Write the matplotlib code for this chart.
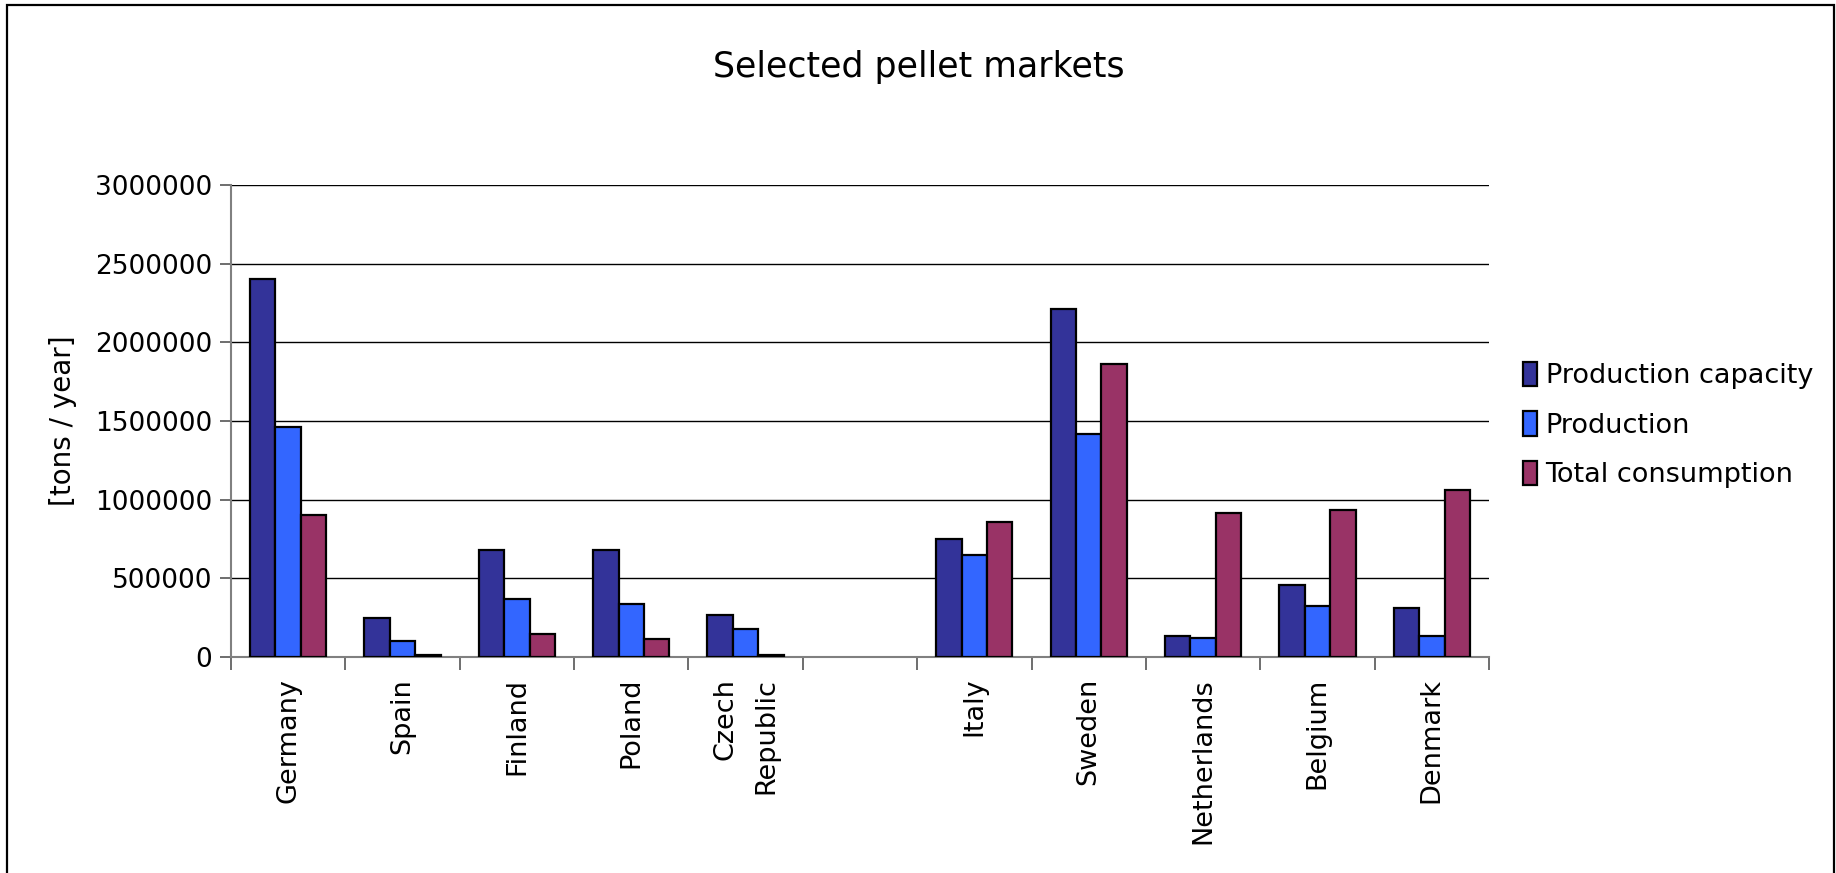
import numpy as np
import matplotlib
matplotlib.use("Agg")
import matplotlib.pyplot as plt
from matplotlib.patches import Rectangle

categories = ["Germany", "Spain", "Finland", "Poland", "Czech\nRepublic", "",
              "Italy", "Sweden", "Netherlands", "Belgium", "Denmark"]
production_capacity = [2400000, 250000, 678000, 680000, 265000, None,
                       752000, 2210000, 134000, 460000, 311000]
production = [1460000, 104000, 368000, 338000, 177000, None,
              649000, 1418000, 121000, 326000, 134000]
total_consumption = [900000, 15000, 149000, 116000, 12000, None,
                     857000, 1860000, 915000, 932000, 1064000]
series_names = ["Production capacity", "Production", "Total consumption"]
series_colors = ["#333399", "#3366FF", "#993366"]
yticks = [0, 500000, 1000000, 1500000, 2000000, 2500000, 3000000]

plt.rcParams['font.family'] = ['DejaVu Sans']

fig = plt.figure(figsize=(18.36, 8.73), dpi=100)
ax = fig.add_axes([0.1258, 0.2474, 0.6852, 0.5407])

x = np.arange(len(categories))
w = 1 / 4.5
all_series = [production_capacity, production, total_consumption]
handles = []
for i, (vals, name, col) in enumerate(zip(all_series, series_names, series_colors)):
    v = np.array([np.nan if a is None else a for a in vals], dtype=float)
    m = ~np.isnan(v)
    b = ax.bar(x[m] + (i - 1) * w, v[m], width=w, color=col, edgecolor='black',
               linewidth=1.6, label=name, zorder=3)
    handles.append(b)

ax.set_xlim(-0.5, len(categories) - 0.5)
ax.set_ylim(0, 3000000)
ax.set_yticks(yticks)
ax.set_yticklabels([str(t) for t in yticks], fontsize=19)
ax.yaxis.grid(True, color='black', linewidth=1.0, zorder=0)
ax.set_axisbelow(True)

ax.set_xticks(np.arange(-0.5, len(categories), 1.0))
ax.set_xticklabels([])
ax.set_xticks(x, minor=True)
ax.set_xticklabels(categories, minor=True, rotation=90, fontsize=19.5,
                   ha='center', va='top', multialignment='right', linespacing=1.75)
ax.tick_params(axis='x', which='minor', length=0, pad=15)
ax.tick_params(axis='x', which='major', length=9, width=1.2, color='#555555', direction='out')
ax.tick_params(axis='y', which='major', length=8, width=1.2, color='#555555', pad=5.5)

for s in ['top', 'right']:
    ax.spines[s].set_visible(False)
for s in ['left', 'bottom']:
    ax.spines[s].set_color('#808080')
    ax.spines[s].set_linewidth(1.5)

ax.set_ylabel('[tons / year]', fontsize=20)
ax.yaxis.set_label_coords(-0.122, 0.5)

fig.text(0.5005, 0.9233, 'Selected pellet markets', fontsize=25, ha='center', va='center')

leg = fig.legend(handles=handles, labels=series_names, loc='center left',
                 bbox_to_anchor=(0.8234, 0.513), frameon=False, fontsize=19.5,
                 handlelength=0.55, handleheight=1.0, handletextpad=0.3,
                 labelspacing=0.82, borderaxespad=0)

fig.add_artist(Rectangle((7 / 1836, -0.2), (1834 - 7) / 1836, 1.2 - 5 / 873,
                         transform=fig.transFigure, fill=False,
                         edgecolor='black', linewidth=1.6))

fig.savefig('out.png', dpi=100)
